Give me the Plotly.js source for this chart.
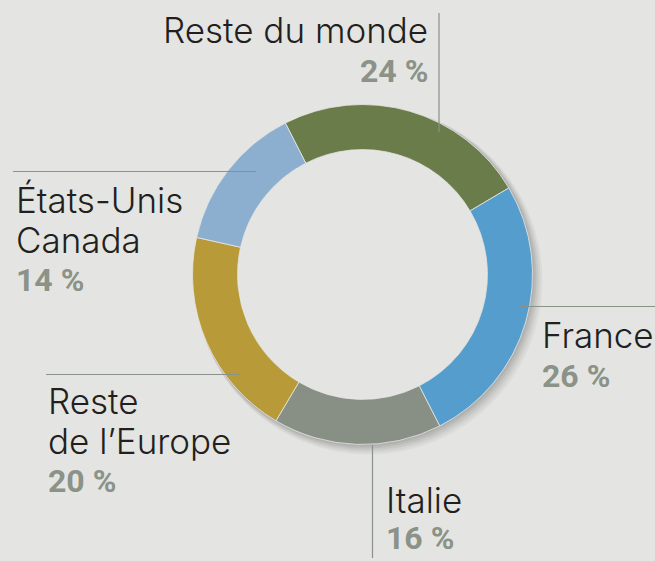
<!DOCTYPE html>
<html>
<head>
<meta charset="utf-8">
<script src="https://cdn.plot.ly/plotly-3.0.1.min.js"></script>
<style>
html,body{margin:0;padding:0;background:#e4e5e2;}
#chart{width:655px;height:561px;}
</style>
</head>
<body>
<div id="chart"></div>
<script>
// ---- data ----
var categories = ['Reste du monde', 'France', 'Italie', 'Reste de l’Europe', 'États-Unis Canada'];
var values = [24, 26, 16, 20, 14];
var labelLines = [['Reste du monde'], ['France'], ['Italie'], ['Reste', 'de l’Europe'], ['États-Unis', 'Canada']];
var colors = ['#6b7c4b', '#559dcc', '#888f85', '#b89b38', '#8cafd0'];

// ---- layout helpers (pixel -> paper) ----
var W = 655, H = 561;
function px(x) { return x / W; }
function py(y) { return 1 - y / H; }

var cx = 362.5, cy = 274.5, R = 170, hole = 0.735;
var BG = '#e4e5e2';
var NAME_SIZE = 35, PCT_SIZE = 32, LINE = 39.5;
var nameFont = {family: 'Inter, Roboto, sans-serif', size: NAME_SIZE, color: '#231f20', weight: 300};
var pctFont = {family: 'Roboto, "Open Sans", sans-serif', size: PCT_SIZE, color: '#8b9287', weight: 700};

// label placement per category: anchor x, first baseline, alignment, line gap
var place = [
  {x: 429, base: 43, anchor: 'right', gap: LINE},
  {x: 541, base: 348, anchor: 'left', gap: LINE},
  {x: 385, base: 513, anchor: 'left', gap: 37},
  {x: 47, base: 414, anchor: 'left', gap: LINE},
  {x: 15, base: 213, anchor: 'left', gap: LINE}
];
// leader lines per category (pixels)
var leaders = [
  [439, 13, 439, 132],
  [519, 306.5, 655, 306.5],
  [372.5, 445, 372.5, 558],
  [46, 374.5, 240, 374.5],
  [13, 171.5, 256, 171.5]
];

var annotations = [];
categories.forEach(function (c, i) {
  var p = place[i];
  var lines = labelLines[i];
  lines.forEach(function (t, k) {
    var b = p.base + k * p.gap;
    annotations.push({
      xref: 'paper', yref: 'paper', x: px(p.x), y: py(b - 0.36 * NAME_SIZE),
      xanchor: p.anchor, yanchor: 'middle', text: t, showarrow: false,
      font: nameFont, borderpad: 0, align: p.anchor
    });
  });
  var bp = p.base + lines.length * p.gap;
  annotations.push({
    xref: 'paper', yref: 'paper', x: px(p.x), y: py(bp - 0.36 * PCT_SIZE),
    xanchor: p.anchor, yanchor: 'middle', text: values[i] + ' %', showarrow: false,
    font: pctFont, borderpad: 0, align: p.anchor
  });
});

var shapes = [];
// soft shadow rings (decorative)
var shadowSteps = [[10, 0.035], [8, 0.04], [6, 0.05], [4, 0.06], [2, 0.06]];
shadowSteps.forEach(function (s) {
  var off = s[0] * 0.6, r = R + s[0] * 0.4;
  shapes.push({
    type: 'circle', xref: 'paper', yref: 'paper', layer: 'below',
    x0: px(cx + off - r), x1: px(cx + off + r), y0: py(cy + off + r), y1: py(cy + off - r),
    fillcolor: 'rgba(0,0,0,' + s[1] + ')', line: {width: 0}
  });
});
// hole cover
var rh = R * hole;
shapes.push({
  type: 'circle', xref: 'paper', yref: 'paper', layer: 'below',
  x0: px(cx - rh), x1: px(cx + rh), y0: py(cy + rh), y1: py(cy - rh),
  fillcolor: BG, line: {width: 0}
});
leaders.forEach(function (l) {
  shapes.push({
    type: 'line', xref: 'paper', yref: 'paper', layer: 'above',
    x0: px(l[0]), y0: py(l[1]), x1: px(l[2]), y1: py(l[3]),
    line: {color: '#8b9287', width: 1.2}
  });
});

var trace = {
  type: 'pie',
  labels: categories,
  values: values,
  sort: false,
  direction: 'clockwise',
  rotation: -27,
  hole: hole,
  textinfo: 'none',
  hoverinfo: 'label+percent',
  marker: {colors: colors, line: {color: '#e8e8e4', width: 0.8}},
  domain: {x: [px(cx - R), px(cx + R)], y: [py(cy + R), py(cy - R)]},
  showlegend: false
};

var layout = {
  width: W, height: H,
  margin: {l: 0, r: 0, t: 0, b: 0},
  paper_bgcolor: BG,
  plot_bgcolor: BG,
  showlegend: false,
  annotations: annotations,
  shapes: shapes
};

Plotly.newPlot('chart', [trace], layout, {displayModeBar: false, staticPlot: true});
</script>
</body>
</html>
